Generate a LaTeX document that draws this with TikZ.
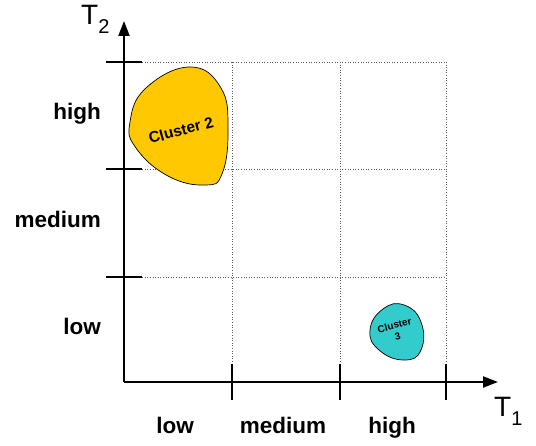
\documentclass[tikz,border=0pt]{standalone}
\usepackage{fontspec}
\setmainfont{Liberation Sans}
\usepackage{tikz}
\usetikzlibrary{arrows.meta}

\newcommand{\axsub}[1]{\raisebox{-0.3em}{\fontsize{20}{20}\selectfont #1}}

\begin{document}
\begin{tikzpicture}[
  x=1pt,y=-1pt,
  axis/.style={line width=2.2pt,draw=black,-{Triangle[length=15pt,width=11pt]}},
  tick/.style={line width=2.2pt,draw=black},
  grid/.style={line width=0.6pt,draw=gray!70!black,dotted},
  lbl/.style={font=\fontsize{22.5}{25}\selectfont\bfseries,inner sep=0pt},
  axlbl/.style={font=\fontsize{28}{30}\selectfont,inner sep=0pt},
  blob/.style={draw=black,line width=0.7pt}
]
\useasboundingbox (0,0) rectangle (536,446);

\coordinate (o) at (124,382);
\coordinate (xend) at (498,382);
\coordinate (yend) at (124,21);

% grid
\coordinate (g1) at (232,62);
\coordinate (g2) at (340,62);
\coordinate (g3) at (446,62);
\coordinate (b1) at (232,382);
\coordinate (b2) at (340,382);
\coordinate (b3) at (446,382);
\coordinate (l1) at (124,277);
\coordinate (l2) at (124,169);
\coordinate (l3) at (124,62);
\coordinate (r1) at (446,277);
\coordinate (r2) at (446,169);
\coordinate (r3) at (446,62);
\draw[grid] (g1)--(b1);
\draw[grid] (g2)--(b2);
\draw[grid] (g3)--(b3);
\draw[grid] (l1)--(r1);
\draw[grid] (l2)--(r2);
\draw[grid] (l3)--(r3);

% clusters
\fill[fill={rgb,255:red,255;green,200;blue,0},blob] plot[smooth cycle,tension=0.75] coordinates {
  (190,67) (221,88) (228,130) (222,174) (205,185) (168,176) (136,148) (130,122) (146,88)};
\node[font=\fontsize{15.5}{17}\selectfont\bfseries,rotate=15,inner sep=0pt] (c2) at (181,130) {Cluster 2};

\fill[fill={rgb,255:red,51;green,204;blue,204},blob] plot[smooth cycle,tension=0.8] coordinates {
  (404,305) (421,322) (421,350) (404,360) (379,350) (370,330) (383,309)};
\node[font=\fontsize{10}{12}\selectfont\bfseries,rotate=15,align=center,inner sep=0pt] (c3) at (396,331) {Cluster\\3};

% axes
\draw[axis] (o)--(xend);
\draw[axis] (o)--(yend);

% ticks
\coordinate (ty1a) at (106,277); \coordinate (ty1b) at (142,277);
\coordinate (ty2a) at (106,169); \coordinate (ty2b) at (142,169);
\coordinate (ty3a) at (106,62);  \coordinate (ty3b) at (142,62);
\coordinate (tx1a) at (232,364); \coordinate (tx1b) at (232,400);
\coordinate (tx2a) at (340,364); \coordinate (tx2b) at (340,400);
\coordinate (tx3a) at (446,364); \coordinate (tx3b) at (446,400);
\draw[tick] (ty1a)--(ty1b);
\draw[tick] (ty2a)--(ty2b);
\draw[tick] (ty3a)--(ty3b);
\draw[tick] (tx1a)--(tx1b);
\draw[tick] (tx2a)--(tx2b);
\draw[tick] (tx3a)--(tx3b);

% labels
\node[axlbl,anchor=base west] (t2) at (81,25) {T\axsub{2}};
\node[axlbl,anchor=base west] (t1) at (494,417) {T\axsub{1}};
\node[lbl,anchor=base east] (yhigh) at (101,120) {high};
\node[lbl,anchor=base east] (ymed) at (101,228) {medium};
\node[lbl,anchor=base east] (ylow) at (101,335) {low};
\node[lbl,anchor=base] (xlow) at (175,434) {low};
\node[lbl,anchor=base] (xmed) at (283,434) {medium};
\node[lbl,anchor=base] (xhigh) at (392,434) {high};
\end{tikzpicture}
\end{document}
